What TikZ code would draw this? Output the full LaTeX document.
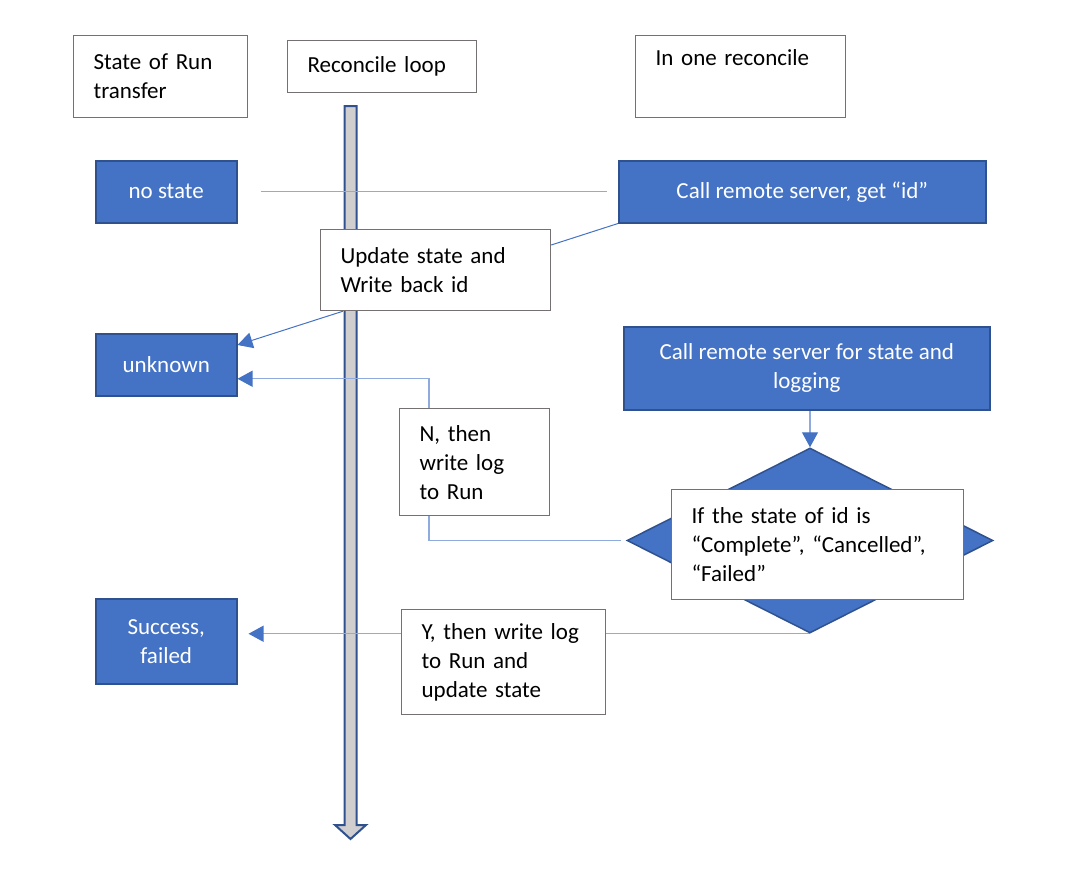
\documentclass[tikz,border=0pt]{standalone}
\usepackage{fontspec}
\setmainfont{Carlito}
\usetikzlibrary{shapes,arrows,arrows.meta,positioning}
\pgfdeclarelayer{background}
\pgfsetlayers{background,main}
\definecolor{boxblue}{HTML}{4472C4}
\definecolor{boxedge}{HTML}{2F528F}
\definecolor{linkblue}{HTML}{8FAADC}
\definecolor{framegray}{HTML}{767171}
\definecolor{loopgray}{HTML}{D0CECE}

\begin{document}
\begin{tikzpicture}[x=1pt,y=-1pt]
	\tikzstyle{every node}=[font=\fontsize{23}{29}\selectfont]
	\tikzstyle{whitebox}=[draw=framegray, line width=1.2pt, fill=white, anchor=north west, inner xsep=20pt, inner ysep=0pt, align=left]
	\tikzstyle{bluebox}=[draw=boxedge, line width=1.5pt, fill=boxblue, text=white, anchor=north west, inner sep=0pt, align=center]
	\tikzstyle{link}=[draw=linkblue, line width=1.2pt]
	\tikzstyle{darklink}=[draw=boxblue, line width=1pt]
	\tikzstyle{tip}=[-{Triangle[length=15pt,width=16pt,color=boxblue]}]

	\useasboundingbox (0.0000,0.0000) rectangle (1082.0000,878.0000);

	%% column heads
	\node [whitebox, text width=134pt, minimum height=82pt] (runstate) at (73.0000,35.0000) {State of Run\\transfer};
	\node [whitebox, text width=149pt, minimum height=52pt] (loop) at (287.0000,40.0000) {Reconcile loop};
	\node [whitebox, text width=170pt, minimum height=82pt] (inone) at (635.0000,35.0000) {In one reconcile\\\strut};

	%% states
	\node [bluebox, minimum width=141pt, minimum height=62pt] (nostate) at (95.0000,160.0000) {no state};
	\node [bluebox, minimum width=141pt, minimum height=62pt] (unknown) at (95.0000,333.0000) {unknown};
	\node [bluebox, minimum width=141pt, minimum height=85pt] (success) at (95.0000,598.0000) {Success,\\failed};

	%% reconcile steps
	\node [bluebox, minimum width=367pt, minimum height=62pt] (callid) at (618.0000,160.0000) {Call remote server, get “id”};
	\node [bluebox, minimum width=366pt, minimum height=83pt] (callstate) at (623.0000,326.0000) {Call remote server for state and\\logging};
	\node [diamond, draw=boxedge, fill=boxblue, line width=1.5pt, minimum width=366pt, minimum height=185pt, inner sep=0pt] (check) at (810.0000,540.5000) {};
	\node [whitebox, text width=252pt, minimum height=110pt] (ifstate) at (671.0000,489.0000) {If the state of id is\\“Complete”, “Cancelled”,\\“Failed”};

	%% notes on the loop
	\node [whitebox, text width=190pt, minimum height=81pt] (update) at (320.0000,229.0000) {Update state and\\Write back id};
	\node [whitebox, text width=110pt, minimum height=107pt] (nolog) at (399.0000,408.0000) {N, then\\write log\\to Run};
	\node [whitebox, text width=164pt, minimum height=105pt] (yeslog) at (401.0000,609.0000) {Y, then write log\\to Run and\\update state};

	\begin{pgfonlayer}{background}
	\draw [draw=boxedge, fill=loopgray, line width=2pt] (344.5000,106.0000) -- (356.5000,106.0000) -- (356.5000,825.0000) -- (366.0000,825.0000) -- (350.5000,839.0000) -- (335.0000,825.0000) -- (344.5000,825.0000) -- cycle;
	\draw [link, shorten <=23pt, shorten >=11pt] (nostate.east) -- (callid.west);
	\draw [darklink] (callid.south west) -- ([yshift=-16pt]update.north east);
	\draw [darklink, tip] ([xshift=23pt]update.south west) -- ([yshift=-12pt]unknown.north east);
	\draw [link, tip] ([xshift=30pt]nolog.north west) |- ([yshift=-14pt]unknown.east);
	\draw [link, tip] (check.north |- callstate.south) -- (check.north);
	\draw [link, shorten <=5pt] (check.west) -| ([xshift=30pt]nolog.south west);
	\draw [link, tip, shorten >=11pt] (check.south) -- (check.south -| success.east);
	\end{pgfonlayer}

\end{tikzpicture}
\end{document}
